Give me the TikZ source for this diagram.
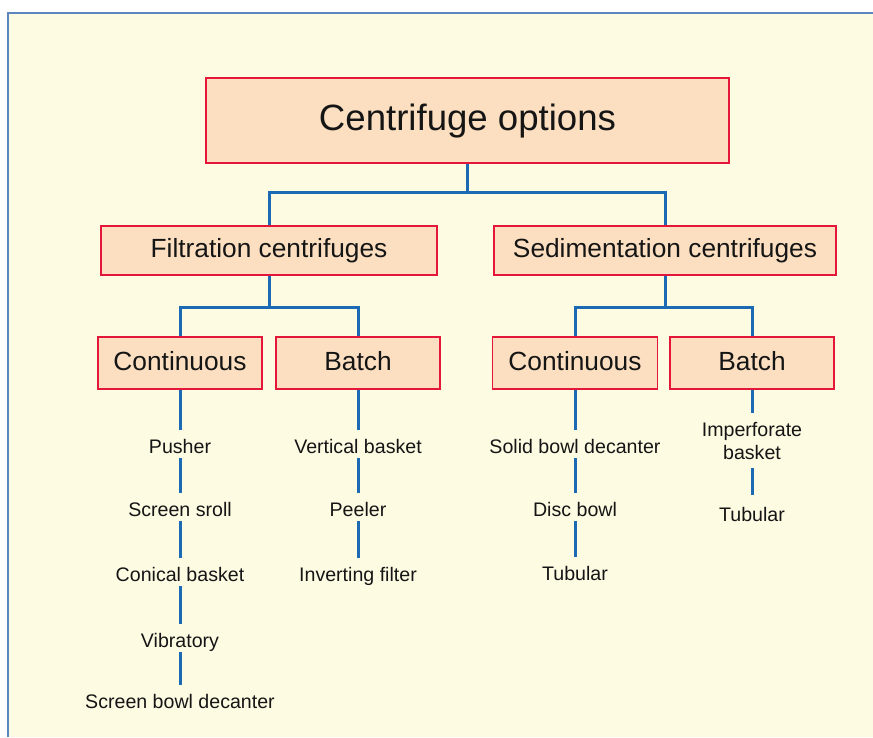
\documentclass[tikz,border=0pt]{standalone}
\usepackage{fontspec}
\setmainfont{Liberation Sans}
\definecolor{cream}{HTML}{FEFBE3}
\definecolor{frameblue}{HTML}{5E86BE}
\definecolor{boxred}{HTML}{E4173A}
\definecolor{boxfill}{HTML}{FBDFC0}
\definecolor{connblue}{HTML}{1C6AB4}
\definecolor{ink}{HTML}{151515}
\begin{document}
\begin{tikzpicture}[x=1pt,y=-1pt,
  box/.style={draw=boxred, fill=boxfill, line width=1.5pt, inner sep=0pt,
    text height=19pt, text depth=5pt, text=ink,
    font=\fontsize{26.3}{30}\selectfont},
  leaf/.style={inner sep=0pt, text height=15pt, text depth=5pt, text=ink,
    font=\fontsize{19.6}{23.5}\selectfont},
  leaftwo/.style={inner sep=0pt, align=center, text=ink,
    font=\fontsize{19.6}{23.5}\selectfont},
  conn/.style={draw=connblue, line width=3pt},
  lk/.style={conn, shorten >=8pt}]
\useasboundingbox (0,0) rectangle (873,737);
\fill[white] (0,0) rectangle (873,737);
\fill[cream] (8,13) rectangle (873,737);
\draw[frameblue, line width=2pt] (8,737) -- (8,13) -- (873,13);

% boxes
\node[box, minimum width=523pt, minimum height=85pt, text height=27pt, text depth=8pt,
  font=\fontsize{36.6}{40}\selectfont] (top) at (467.5,120.5) {Centrifuge options};
\node[box, minimum width=336pt, minimum height=49pt] (filt) at (269,250.5) {Filtration centrifuges};
\node[box, minimum width=342pt, minimum height=49pt] (sed) at (665,250.5) {Sedimentation centrifuges};
\node[box, minimum width=164pt, minimum height=52pt] (c1) at (180,363) {Continuous};
\node[box, minimum width=164pt, minimum height=52pt] (b1) at (358,363) {Batch};
\node[box, minimum width=165pt, minimum height=52pt] (c2) at (575,363) {Continuous};
\node[box, minimum width=164pt, minimum height=52pt] (b2) at (752,363) {Batch};

% tree connectors
\coordinate (j0) at (467.5,192);
\coordinate (j1) at (269,307);
\coordinate (j2) at (665,307);
\draw[conn] (top.south) -- (j0);
\draw[conn] (filt.north) |- (j0) -| (sed.north);
\draw[conn] (filt.south) -- (j1);
\draw[conn] (c1.north) |- (j1) -| (b1.north);
\draw[conn] (sed.south) -- (j2);
\draw[conn] (c2.north) |- (j2) -| (b2.north);

% leaves: filtration continuous
\node[leaf, anchor=base] (p1) at (180,453) {Pusher};
\node[leaf, anchor=base] (p2) at (180,516) {Screen sroll};
\node[leaf, anchor=base] (p3) at (180,581) {Conical basket};
\node[leaf, anchor=base] (p4) at (180,647) {Vibratory};
\node[leaf, anchor=base] (p5) at (180,708) {Screen bowl decanter};
\draw[lk] (c1.south) -- (p1.north);
\draw[lk] (p1.south) -- (p2.north);
\draw[lk] (p2.south) -- (p3.north);
\draw[lk] (p3.south) -- (p4.north);
\draw[lk] (p4.south) -- (p5.north);

% leaves: filtration batch
\node[leaf, anchor=base] (q1) at (358,453) {Vertical basket};
\node[leaf, anchor=base] (q2) at (358,516) {Peeler};
\node[leaf, anchor=base] (q3) at (358,581) {Inverting filter};
\draw[lk] (b1.south) -- (q1.north);
\draw[lk] (q1.south) -- (q2.north);
\draw[lk] (q2.south) -- (q3.north);

% leaves: sedimentation continuous
\node[leaf, anchor=base] (r1) at (575,453) {Solid bowl decanter};
\node[leaf, anchor=base] (r2) at (575,516) {Disc bowl};
\node[leaf, anchor=base] (r3) at (575,580) {Tubular};
\draw[lk] (c2.south) -- (r1.north);
\draw[lk] (r1.south) -- (r2.north);
\draw[lk] (r2.south) -- (r3.north);

% leaves: sedimentation batch
\node[leaftwo, anchor=north] (s1) at (752,422) {Imperforate\\basket};
\node[leaf, anchor=base] (s2) at (752,521) {Tubular};
\draw[conn, shorten >=9pt] (b2.south) -- (s1.north);
\draw[conn, shorten <=8pt, shorten >=11pt] (s1.south) -- (s2.north);
\end{tikzpicture}
\end{document}
